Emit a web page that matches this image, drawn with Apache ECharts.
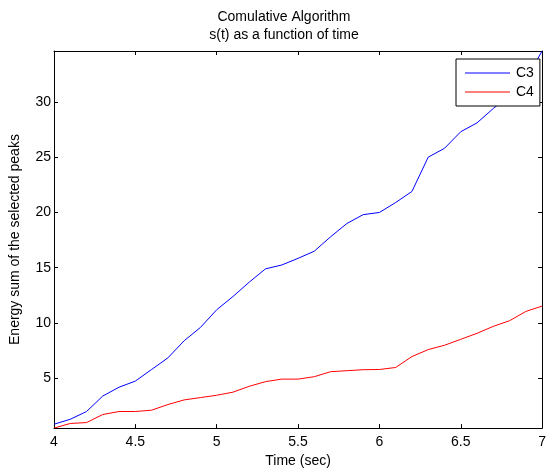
<!doctype html>
<html lang="en">
<head>
  <meta charset="utf-8">
  <title>Comulative Algorithm</title>
  <script src="https://cdn.jsdelivr.net/npm/echarts@6/dist/echarts.min.js"></script>
  <style>
    html, body { margin: 0; padding: 0; background: #fff; }
    #chartmain { width: 549px; height: 473px; }
  </style>
</head>
<body>
<div id="chartmain"></div>
<script>
  // time axis (sec)
  var time = [4.0, 4.1, 4.2, 4.3, 4.4, 4.5, 4.6, 4.7, 4.8, 4.9,
              5.0, 5.1, 5.2, 5.3, 5.4, 5.5, 5.6, 5.7, 5.8, 5.9,
              6.0, 6.1, 6.2, 6.3, 6.4, 6.5, 6.6, 6.7, 6.8, 6.9, 7.0];
  var c3 = [0.85, 1.3, 2.0, 3.4, 4.2, 4.75, 5.8, 6.85, 8.4, 9.6,
            11.2, 12.4, 13.7, 14.9, 15.25, 15.85, 16.5, 17.8, 19.0, 19.8,
            20.0, 20.9, 21.9, 25.0, 25.8, 27.3, 28.1, 29.4, 30.6, 32.0, 34.6];
  var c4 = [0.5, 0.92, 1.0, 1.73, 2.0, 2.0, 2.12, 2.63, 3.05, 3.26,
            3.47, 3.75, 4.28, 4.7, 4.93, 4.93, 5.15, 5.6, 5.69, 5.78,
            5.8, 5.98, 6.97, 7.6, 7.99, 8.53, 9.07, 9.7, 10.21, 11.05, 11.53];
  var xTicks = [4, 4.5, 5, 5.5, 6, 6.5, 7];
  var yTicks = [5, 10, 15, 20, 25, 30];

  var font = 'Liberation Sans, Arial, sans-serif';

  function pairs(ys) {
    var out = [];
    for (var i = 0; i < time.length; i++) out.push([time[i], ys[i]]);
    return out;
  }

  var axisLine = { show: true, lineStyle: { color: '#000', width: 1 } };

  var myChart = echarts.init(document.getElementById('chartmain'));
  var option = {
    backgroundColor: '#fff',
    animation: false,
    title: {
      text: 'Comulative Algorithm\ns(t) as a function of time',
      left: 284,
      top: 8,
      padding: 0,
      textAlign: 'center',
      textStyle: { fontFamily: font, fontSize: 14, fontWeight: 'normal', color: '#000', lineHeight: 18 }
    },
    grid: { left: 54, right: 3, top: 51, bottom: 43, containLabel: false },
    legend: {
      data: ['C3', 'C4'],
      orient: 'vertical',
      left: 456,
      top: 59,
      padding: [7, 6, 7, 9],
      icon: 'rect',
      itemWidth: 45,
      itemHeight: 1,
      itemGap: 5,
      backgroundColor: '#fff',
      borderColor: '#000',
      borderWidth: 1,
      borderRadius: 0,
      textStyle: { fontFamily: font, fontSize: 14, color: '#000', padding: [0, 0, 0, 1] }
    },
    xAxis: [
      {
        type: 'value', min: 4, max: 7, interval: 0.5,
        name: 'Time (sec)', nameLocation: 'middle', nameGap: 25,
        nameTextStyle: { fontFamily: font, fontSize: 14, color: '#000' },
        axisLine: axisLine,
        axisTick: { show: true, inside: true, length: 4, customValues: xTicks, lineStyle: { color: '#000' } },
        axisLabel: { fontFamily: font, fontSize: 14, color: '#000', margin: 7, customValues: xTicks },
        splitLine: { show: false }
      },
      {
        type: 'value', min: 4, max: 7, interval: 0.5, position: 'top',
        axisLine: axisLine,
        axisTick: { show: true, inside: true, length: 4, lineStyle: { color: '#000' } },
        axisLabel: { show: false },
        splitLine: { show: false }
      }
    ],
    yAxis: [
      {
        type: 'value', min: 0.5, max: 34.6,
        name: 'Energy sum of the selected peaks', nameLocation: 'middle', nameGap: 32,
        nameTextStyle: { fontFamily: font, fontSize: 14, color: '#000' },
        axisLine: axisLine,
        axisTick: { show: true, inside: true, length: 4, customValues: yTicks, lineStyle: { color: '#000' } },
        axisLabel: { fontFamily: font, fontSize: 14, color: '#000', margin: 3, customValues: yTicks },
        splitLine: { show: false }
      },
      {
        type: 'value', min: 0.5, max: 34.6, position: 'right',
        axisLine: axisLine,
        axisTick: { show: true, inside: true, length: 4, customValues: yTicks, lineStyle: { color: '#000' } },
        axisLabel: { show: false },
        splitLine: { show: false }
      }
    ],
    series: [
      {
        name: 'C3', type: 'line', data: pairs(c3),
        symbol: 'none', clip: true,
        lineStyle: { color: '#0000ff', width: 1 },
        itemStyle: { color: '#0000ff' }
      },
      {
        name: 'C4', type: 'line', data: pairs(c4),
        symbol: 'none', clip: true,
        lineStyle: { color: '#ff0000', width: 1 },
        itemStyle: { color: '#ff0000' }
      }
    ]
  };
  myChart.setOption(option);
</script>
</body>
</html>
